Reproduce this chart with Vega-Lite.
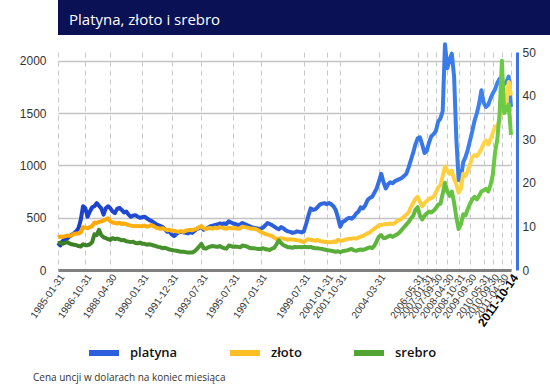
{
"$schema": "https://vega.github.io/schema/vega-lite/v6.json",
"background": "white",
"padding": 0,
"spacing": 7,
"config": {"view": {"stroke": null}, "font": "Liberation Sans"},
"vconcat": [
{
"width": 550, "height": 35,
"view": {"fill": "#0b1155", "stroke": null},
"data": {"values": [{"t": "Platyna, złoto i srebro"}]},
"mark": {"type": "text", "align": "left", "baseline": "middle", "dx": -264, "dy": 2, "fontSize": 15, "color": "#ffffff", "font": "Open Sans"},
"encoding": {"text": {"field": "t", "type": "nominal"}}
},
{
"width": 453, "height": 218,
"data": {"values": [
{"d":"1985-01-31","p":260,"g":310,"s":6.1},
{"d":"1985-03-25","p":235,"g":320,"s":6.3},
{"d":"1985-05-16","p":275,"g":318,"s":6.0},
{"d":"1985-07-08","p":290,"g":322,"s":6.2},
{"d":"1985-08-30","p":300,"g":330,"s":6.4},
{"d":"1985-10-22","p":320,"g":328,"s":6.1},
{"d":"1985-12-13","p":335,"g":330,"s":5.9},
{"d":"1986-02-04","p":350,"g":345,"s":5.8},
{"d":"1986-03-28","p":370,"g":350,"s":5.7},
{"d":"1986-05-20","p":400,"g":350,"s":5.5},
{"d":"1986-07-11","p":480,"g":360,"s":5.4},
{"d":"1986-09-02","p":610,"g":410,"s":5.9},
{"d":"1986-10-31","p":590,"g":405,"s":5.7},
{"d":"1986-12-15","p":510,"g":400,"s":5.7},
{"d":"1987-01-30","p":560,"g":410,"s":5.9},
{"d":"1987-03-16","p":600,"g":420,"s":6.4},
{"d":"1987-04-30","p":610,"g":455,"s":8.2},
{"d":"1987-06-15","p":640,"g":450,"s":8.0},
{"d":"1987-07-30","p":615,"g":460,"s":9.2},
{"d":"1987-09-14","p":590,"g":465,"s":8.0},
{"d":"1987-10-30","p":530,"g":475,"s":7.5},
{"d":"1987-12-15","p":590,"g":485,"s":7.3},
{"d":"1988-02-28","p":610,"g":495,"s":7.1},
{"d":"1988-04-30","p":590,"g":465,"s":6.9},
{"d":"1988-06-15","p":560,"g":455,"s":7.3},
{"d":"1988-07-31","p":545,"g":450,"s":7.1},
{"d":"1988-09-15","p":585,"g":445,"s":7.2},
{"d":"1988-10-31","p":595,"g":452,"s":7.0},
{"d":"1988-12-15","p":575,"g":440,"s":6.8},
{"d":"1989-01-31","p":550,"g":445,"s":6.9},
{"d":"1989-03-15","p":560,"g":438,"s":6.6},
{"d":"1989-04-30","p":530,"g":430,"s":6.5},
{"d":"1989-06-15","p":510,"g":425,"s":6.4},
{"d":"1989-07-31","p":520,"g":420,"s":6.5},
{"d":"1989-09-15","p":525,"g":418,"s":6.2},
{"d":"1989-10-31","p":510,"g":422,"s":6.1},
{"d":"1989-12-15","p":500,"g":418,"s":6.3},
{"d":"1990-01-31","p":505,"g":420,"s":6.0},
{"d":"1990-03-24","p":510,"g":425,"s":6.0},
{"d":"1990-05-15","p":495,"g":415,"s":5.8},
{"d":"1990-07-08","p":480,"g":420,"s":5.9},
{"d":"1990-08-30","p":470,"g":430,"s":5.8},
{"d":"1990-10-22","p":455,"g":420,"s":5.6},
{"d":"1990-12-13","p":440,"g":405,"s":5.5},
{"d":"1991-02-04","p":430,"g":400,"s":5.3},
{"d":"1991-03-28","p":420,"g":395,"s":5.2},
{"d":"1991-05-20","p":410,"g":400,"s":5.0},
{"d":"1991-07-11","p":390,"g":390,"s":5.1},
{"d":"1991-09-02","p":365,"g":380,"s":4.9},
{"d":"1991-10-24","p":370,"g":385,"s":4.7},
{"d":"1991-12-31","p":340,"g":375,"s":4.6},
{"d":"1992-02-14","p":325,"g":375,"s":4.5},
{"d":"1992-03-31","p":345,"g":370,"s":4.4},
{"d":"1992-05-15","p":360,"g":365,"s":4.3},
{"d":"1992-06-30","p":365,"g":372,"s":4.2},
{"d":"1992-08-15","p":360,"g":365,"s":4.2},
{"d":"1992-09-30","p":355,"g":375,"s":4.1},
{"d":"1992-11-15","p":350,"g":380,"s":4.0},
{"d":"1992-12-31","p":360,"g":385,"s":4.0},
{"d":"1993-02-15","p":355,"g":380,"s":4.0},
{"d":"1993-03-31","p":375,"g":388,"s":4.3},
{"d":"1993-05-15","p":395,"g":395,"s":4.8},
{"d":"1993-06-30","p":400,"g":410,"s":5.4},
{"d":"1993-07-31","p":415,"g":420,"s":6.0},
{"d":"1993-09-22","p":385,"g":398,"s":5.0},
{"d":"1993-11-12","p":395,"g":392,"s":4.9},
{"d":"1994-01-03","p":405,"g":400,"s":5.2},
{"d":"1994-02-25","p":420,"g":402,"s":5.4},
{"d":"1994-04-18","p":425,"g":395,"s":5.5},
{"d":"1994-06-09","p":430,"g":405,"s":5.4},
{"d":"1994-07-31","p":435,"g":400,"s":5.3},
{"d":"1994-09-22","p":445,"g":410,"s":5.5},
{"d":"1994-11-12","p":440,"g":405,"s":5.2},
{"d":"1995-01-03","p":445,"g":400,"s":5.0},
{"d":"1995-02-25","p":440,"g":395,"s":4.9},
{"d":"1995-04-18","p":465,"g":405,"s":5.6},
{"d":"1995-06-09","p":455,"g":400,"s":5.5},
{"d":"1995-07-31","p":445,"g":402,"s":5.3},
{"d":"1995-09-15","p":440,"g":400,"s":5.4},
{"d":"1995-10-31","p":430,"g":395,"s":5.3},
{"d":"1995-12-15","p":435,"g":400,"s":5.2},
{"d":"1996-01-31","p":450,"g":415,"s":5.6},
{"d":"1996-03-15","p":440,"g":410,"s":5.5},
{"d":"1996-04-30","p":430,"g":405,"s":5.4},
{"d":"1996-06-15","p":420,"g":400,"s":5.1},
{"d":"1996-07-31","p":410,"g":395,"s":5.0},
{"d":"1996-09-15","p":405,"g":395,"s":5.0},
{"d":"1996-10-31","p":400,"g":390,"s":4.9},
{"d":"1996-12-15","p":395,"g":380,"s":4.8},
{"d":"1997-01-31","p":395,"g":365,"s":4.8},
{"d":"1997-03-20","p":405,"g":355,"s":5.0},
{"d":"1997-05-07","p":425,"g":345,"s":4.8},
{"d":"1997-06-24","p":450,"g":340,"s":4.7},
{"d":"1997-08-11","p":440,"g":330,"s":4.6},
{"d":"1997-09-28","p":430,"g":325,"s":4.9},
{"d":"1997-11-15","p":415,"g":310,"s":5.1},
{"d":"1998-01-02","p":400,"g":295,"s":5.9},
{"d":"1998-02-19","p":390,"g":300,"s":6.8},
{"d":"1998-04-08","p":410,"g":305,"s":6.2},
{"d":"1998-05-26","p":400,"g":300,"s":5.7},
{"d":"1998-07-13","p":380,"g":295,"s":5.5},
{"d":"1998-08-30","p":370,"g":290,"s":5.2},
{"d":"1998-10-17","p":365,"g":295,"s":5.2},
{"d":"1998-12-04","p":355,"g":292,"s":5.1},
{"d":"1999-01-21","p":360,"g":290,"s":5.3},
{"d":"1999-03-10","p":370,"g":285,"s":5.2},
{"d":"1999-04-27","p":365,"g":282,"s":5.3},
{"d":"1999-06-14","p":360,"g":275,"s":5.2},
{"d":"1999-07-31","p":370,"g":268,"s":5.3},
{"d":"1999-09-25","p":440,"g":285,"s":5.3},
{"d":"1999-11-20","p":520,"g":295,"s":5.2},
{"d":"2000-01-15","p":590,"g":290,"s":5.3},
{"d":"2000-03-10","p":575,"g":285,"s":5.1},
{"d":"2000-05-05","p":580,"g":280,"s":5.0},
{"d":"2000-07-01","p":600,"g":288,"s":5.0},
{"d":"2000-08-25","p":625,"g":278,"s":4.9},
{"d":"2000-10-20","p":635,"g":272,"s":4.8},
{"d":"2000-12-15","p":640,"g":270,"s":4.7},
{"d":"2001-01-31","p":630,"g":268,"s":4.6},
{"d":"2001-03-15","p":640,"g":265,"s":4.5},
{"d":"2001-04-30","p":630,"g":265,"s":4.4},
{"d":"2001-06-15","p":610,"g":272,"s":4.3},
{"d":"2001-07-31","p":575,"g":268,"s":4.2},
{"d":"2001-09-15","p":500,"g":290,"s":4.3},
{"d":"2001-10-31","p":415,"g":280,"s":4.1},
{"d":"2001-12-22","p":460,"g":280,"s":4.3},
{"d":"2002-02-12","p":470,"g":290,"s":4.4},
{"d":"2002-04-05","p":490,"g":295,"s":4.5},
{"d":"2002-05-27","p":500,"g":300,"s":4.7},
{"d":"2002-07-18","p":490,"g":300,"s":4.8},
{"d":"2002-09-08","p":510,"g":305,"s":4.5},
{"d":"2002-10-30","p":540,"g":300,"s":4.4},
{"d":"2002-12-21","p":560,"g":310,"s":4.6},
{"d":"2003-02-11","p":600,"g":320,"s":4.7},
{"d":"2003-04-04","p":590,"g":325,"s":4.6},
{"d":"2003-05-26","p":620,"g":340,"s":4.8},
{"d":"2003-07-17","p":670,"g":350,"s":5.0},
{"d":"2003-09-07","p":690,"g":360,"s":5.2},
{"d":"2003-10-29","p":700,"g":380,"s":5.0},
{"d":"2003-12-20","p":740,"g":395,"s":5.6},
{"d":"2004-02-10","p":780,"g":410,"s":6.6},
{"d":"2004-03-31","p":850,"g":430,"s":7.7},
{"d":"2004-05-17","p":920,"g":430,"s":8.0},
{"d":"2004-07-02","p":840,"g":435,"s":7.3},
{"d":"2004-08-18","p":780,"g":440,"s":7.4},
{"d":"2004-10-04","p":820,"g":440,"s":7.7},
{"d":"2004-11-19","p":840,"g":445,"s":7.9},
{"d":"2005-01-05","p":830,"g":440,"s":7.6},
{"d":"2005-02-20","p":850,"g":450,"s":7.9},
{"d":"2005-04-08","p":860,"g":470,"s":8.2},
{"d":"2005-05-24","p":870,"g":480,"s":8.6},
{"d":"2005-07-10","p":880,"g":490,"s":9.2},
{"d":"2005-08-25","p":900,"g":510,"s":9.8},
{"d":"2005-10-11","p":920,"g":530,"s":10.4},
{"d":"2005-11-26","p":980,"g":550,"s":11.0},
{"d":"2006-01-12","p":1050,"g":600,"s":11.8},
{"d":"2006-02-27","p":1120,"g":640,"s":12.4},
{"d":"2006-04-14","p":1200,"g":680,"s":13.8},
{"d":"2006-05-31","p":1260,"g":700,"s":14.4},
{"d":"2006-07-31","p":1270,"g":650,"s":12.5},
{"d":"2006-09-30","p":1200,"g":610,"s":11.6},
{"d":"2006-11-30","p":1120,"g":640,"s":12.4},
{"d":"2007-01-31","p":1140,"g":660,"s":13.0},
{"d":"2007-03-31","p":1220,"g":680,"s":13.4},
{"d":"2007-05-31","p":1280,"g":690,"s":13.2},
{"d":"2007-07-31","p":1300,"g":700,"s":13.6},
{"d":"2007-09-30","p":1330,"g":740,"s":14.2},
{"d":"2007-11-12","p":1420,"g":790,"s":15.0},
{"d":"2007-12-24","p":1450,"g":810,"s":15.2},
{"d":"2008-02-05","p":1520,"g":900,"s":17.5},
{"d":"2008-03-18","p":2160,"g":990,"s":20.0},
{"d":"2008-04-30","p":1930,"g":950,"s":18.0},
{"d":"2008-06-06","p":2010,"g":920,"s":17.0},
{"d":"2008-07-13","p":2070,"g":950,"s":18.0},
{"d":"2008-08-19","p":1850,"g":870,"s":15.5},
{"d":"2008-09-25","p":1250,"g":820,"s":12.0},
{"d":"2008-10-31","p":860,"g":740,"s":9.4},
{"d":"2008-12-31","p":880,"g":780,"s":10.5},
{"d":"2009-03-01","p":1030,"g":920,"s":12.8},
{"d":"2009-04-30","p":1080,"g":900,"s":12.5},
{"d":"2009-06-30","p":1150,"g":950,"s":14.0},
{"d":"2009-09-30","p":1240,"g":1010,"s":15.2},
{"d":"2009-11-10","p":1330,"g":1080,"s":16.2},
{"d":"2009-12-20","p":1430,"g":1100,"s":16.8},
{"d":"2010-01-30","p":1500,"g":1090,"s":16.2},
{"d":"2010-03-10","p":1590,"g":1120,"s":17.0},
{"d":"2010-04-20","p":1720,"g":1160,"s":18.0},
{"d":"2010-05-31","p":1600,"g":1210,"s":18.3},
{"d":"2010-06-30","p":1560,"g":1240,"s":18.6},
{"d":"2010-07-31","p":1580,"g":1200,"s":18.0},
{"d":"2010-08-31","p":1640,"g":1250,"s":19.5},
{"d":"2010-09-30","p":1690,"g":1310,"s":21.8},
{"d":"2010-11-22","p":1730,"g":1370,"s":27.0},
{"d":"2011-01-14","p":1790,"g":1380,"s":30.0},
{"d":"2011-03-08","p":1830,"g":1430,"s":36.0},
{"d":"2011-04-30","p":1800,"g":1560,"s":48.0},
{"d":"2011-06-10","p":1780,"g":1530,"s":36.0},
{"d":"2011-07-22","p":1800,"g":1620,"s":37.0},
{"d":"2011-09-02","p":1850,"g":1800,"s":38.0},
{"d":"2011-10-14","p":1560,"g":1670,"s":31.0}
]},
"title": {"text": "Cena uncji w dolarach na koniec miesiąca", "orient": "bottom", "anchor": "start", "frame": "group", "dx": -25, "offset": 45, "fontSize": 10, "fontWeight": "normal", "color": "#333333", "font": "Open Sans"},
"encoding": {
  "x": {"field": "d", "type": "ordinal", "scale": {"type": "point", "padding": 0},
    "axis": {"title": null,
      "values": ["1985-01-31","1986-10-31","1988-04-30","1990-01-31","1991-12-31","1993-07-31","1995-07-31","1997-01-31","1999-07-31","2001-01-31","2001-10-31","2004-03-31","2006-05-31","2007-01-31","2007-09-30","2008-04-30","2008-10-31","2009-09-30","2010-05-31","2010-09-30","2011-04-30","2011-10-14"],
      "labelAngle": -55, "labelAlign": "right", "labelBaseline": "middle", "labelPadding": 5, "labelOffset": 4,
      "labelFont": "Liberation Sans",
      "labelFontSize": {"condition": {"test": "datum.value == '2011-10-14'", "value": 12}, "value": 10},
      "labelFontWeight": {"condition": {"test": "datum.value == '2011-10-14'", "value": "bold"}, "value": "normal"},
      "labelColor": {"condition": {"test": "datum.value == '2011-10-14'", "value": "#000000"}, "value": "#333333"},
      "labelOverlap": false, "labelBound": false, "labelFlush": false,
      "ticks": false, "domain": true, "domainColor": "#808080", "domainWidth": 3,
      "grid": true, "gridDash": [5, 4], "gridColor": "#c8c8c8", "gridWidth": 1}}
},
"layer": [
  {"layer": [
    {"mark": {"type": "line", "strokeWidth": 4, "strokeJoin": "round", "stroke": {"gradient": "linear", "x1": 0, "y1": 0, "x2": 1, "y2": 0, "stops": [{"offset": 0, "color": "#1a3ccc"}, {"offset": 1, "color": "#3f86ee"}]}},
     "encoding": {"y": {"field": "p", "type": "quantitative", "scale": {"domain": [0, 2086], "nice": false, "zero": true},
       "axis": {"title": null, "values": [0, 500, 1000, 1500, 2000], "format": "d", "ticks": false, "domain": false, "labelPadding": 12, "labelFontSize": 12, "labelColor": "#333333", "labelFont": "Liberation Sans", "gridColor": "#c4c4c4", "gridWidth": 1.5, "minExtent": 58, "maxExtent": 58, "labelFlush": false}}}},
    {"mark": {"type": "line", "strokeWidth": 4, "strokeJoin": "round", "stroke": {"gradient": "linear", "x1": 0, "y1": 0, "x2": 1, "y2": 0, "stops": [{"offset": 0, "color": "#ffa600"}, {"offset": 1, "color": "#ffd84d"}]}},
     "encoding": {"y": {"field": "g", "type": "quantitative"}}},
    {"transform": [{"filter": "datum.d == '1985-01-31'"}, {"fold": ["p", "g", "s"], "as": ["k", "v"]}],
     "mark": {"type": "line", "strokeWidth": 4},
     "encoding": {"y": {"field": "v", "type": "quantitative"},
       "color": {"field": "k", "type": "nominal", "scale": {"domain": ["p", "g", "s"], "range": ["#2b5fdd", "#ffbe25", "#52a535"]},
         "legend": {"title": null, "orient": "none", "legendX": 28, "legendY": 335, "direction": "horizontal", "gridAlign": "none", "columnPadding": 40,
           "symbolType": "stroke", "symbolStrokeWidth": 6, "symbolSize": 900, "labelOffset": 8,
           "labelFont": "Open Sans", "labelFontSize": 13, "labelFontWeight": 600, "labelColor": "#111111",
           "labelExpr": "datum.label == 'p' ? 'platyna' : datum.label == 'g' ? 'złoto' : 'srebro'"}}}}
  ]},
  {"mark": {"type": "line", "strokeWidth": 4, "strokeJoin": "round", "stroke": {"gradient": "linear", "x1": 0, "y1": 0, "x2": 1, "y2": 0, "stops": [{"offset": 0, "color": "#3a7d24"}, {"offset": 1, "color": "#6ccb45"}]}},
   "encoding": {"y": {"field": "s", "type": "quantitative", "scale": {"domain": [0, 50], "nice": false},
     "axis": {"orient": "right", "title": null, "values": [0, 10, 20, 30, 40, 50], "ticks": false, "grid": false, "domain": true, "domainColor": "#3d72e6", "domainWidth": 3, "offset": 6, "labelPadding": 5, "labelFontSize": 12, "labelColor": "#333333", "labelFont": "Liberation Sans", "labelFlush": false}}}}
],
"resolve": {"scale": {"y": "independent"}}
}
]
}
